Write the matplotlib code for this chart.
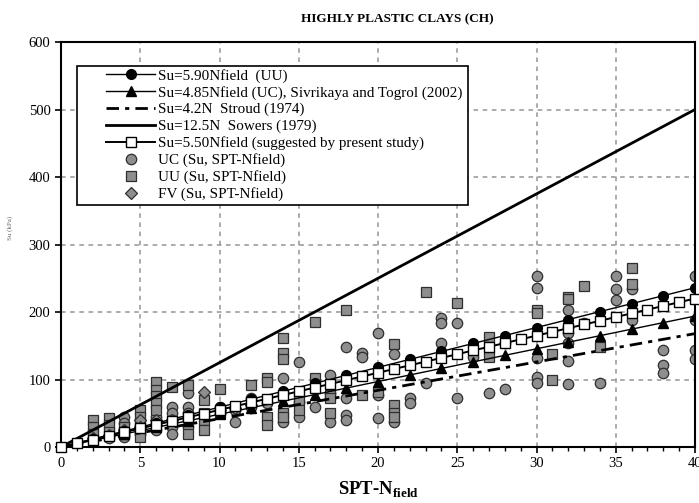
import numpy as np
import matplotlib
matplotlib.use("Agg")
import matplotlib.pyplot as plt
from matplotlib.patches import Rectangle

plt.rcParams['font.family'] = ['Liberation Serif', 'DejaVu Serif']
plt.rcParams['mathtext.fontset'] = 'custom'
plt.rcParams['mathtext.rm'] = 'Liberation Serif'
plt.rcParams['mathtext.bf'] = 'Liberation Serif:bold'

# measured data: UC tests (N, Su)
uc_n = [3, 4, 4, 4, 4, 5, 5, 6, 6, 6, 7, 7, 7, 7, 7, 8, 8, 8, 8, 8,
        10, 10, 11, 11, 12, 12, 13, 14, 14, 14, 15, 15, 15, 16,
        17, 17, 17, 18, 18, 18, 18, 19, 19, 20, 20, 20, 21, 21, 22, 22,
        23, 24, 24, 24, 25, 25, 26, 27, 28, 28,
        30, 30, 30, 30, 30, 32, 32, 32, 32, 32, 32, 33, 34,
        35, 35, 35, 36, 36, 38, 38, 38, 40, 40, 40, 40]
uc_su = [13, 45, 35, 25, 15, 20, 30, 45, 35, 25, 60, 50, 40, 30, 20, 80, 60, 50, 40, 30,
         60, 50, 37, 55, 72, 60, 65, 102, 80, 37, 126, 44, 67, 60,
         107, 37, 80, 148, 72, 47, 40, 139, 133, 169, 43, 77, 138, 37, 72, 65,
         95, 191, 184, 154, 184, 72, 133, 80, 154, 86,
         253, 235, 132, 104, 95, 203, 178, 169, 154, 128, 93, 184, 95,
         253, 234, 218, 234, 188, 144, 121, 110, 253, 188, 144, 130]

# UU tests
uu_n = [2, 2, 2, 3, 3, 3, 4, 4, 5, 5, 5, 5, 5, 6, 6, 6, 6, 6, 7, 8, 8,
        9, 9, 9, 9, 10, 10, 12, 13, 13, 13, 13, 14, 14, 14, 14, 14,
        15, 15, 16, 16, 17, 17, 17, 18, 19, 20, 21, 21, 21, 21,
        23, 25, 27, 27, 30, 30, 31, 31, 32, 32, 33, 34, 36, 36]
uu_su = [40, 30, 20, 43, 33, 22, 30, 20, 55, 45, 35, 25, 15, 96, 85, 75, 65, 55, 89, 92, 20,
         70, 50, 40, 25, 86, 50, 92, 102, 96, 45, 33, 161, 140, 130, 50, 44,
         70, 55, 185, 102, 77, 72, 50, 203, 77, 81, 153, 62, 50, 44,
         230, 213, 163, 133, 203, 198, 138, 99, 222, 220, 238, 148, 265, 241]

# field vane tests
fv_n = [2, 3, 4, 5, 5, 6, 6, 7, 8, 9, 10, 11, 12]
fv_su = [13, 18, 25, 40, 30, 40, 33, 40, 45, 82, 55, 58, 62]

# correlation lines
n_all = np.arange(0, 41)
n_even = np.arange(0, 41, 2)
k_uu = 5.90
k_uc = 4.85
k_stroud = 4.2
k_sowers = 12.5
k_present = 5.50

fig = plt.figure(figsize=(6.99, 5.03), dpi=100)
ax = fig.add_axes([0.0873, 0.1113, 0.907, 0.8052])

grey = '#8e8e8e'
edge = '#2e2e2e'
s1, = ax.plot(uc_n, uc_su, 'o', ms=7.5, mfc=grey, mec=edge, mew=0.9, zorder=2,
              label='UC (Su, SPT-Nfield)')
s2, = ax.plot(uu_n, uu_su, 's', ms=7.5, mfc=grey, mec=edge, mew=0.9, zorder=2,
              label='UU (Su, SPT-Nfield)')
s3, = ax.plot(fv_n, fv_su, 'D', ms=6.5, mfc=grey, mec=edge, mew=0.9, zorder=2,
              label='FV (Su, SPT-Nfield)')

l1, = ax.plot(n_even, k_uu * n_even, '-o', color='black', lw=1.0, ms=7, zorder=4,
              label='Su=5.90Nfield  (UU)')
l2, = ax.plot(n_even, k_uc * n_even, '-^', color='black', lw=1.0, ms=7, zorder=4,
              label='Su=4.85Nfield (UC), Sivrikaya and Togrol (2002)')
l3, = ax.plot(n_all, k_stroud * n_all, color='black', lw=2.0,
              linestyle=(0, (4.5, 2.2, 1.5, 2.2)), zorder=3,
              label='Su=4.2N  Stroud (1974)')
l4, = ax.plot(n_all, k_sowers * n_all, '-', color='black', lw=2.0, zorder=3,
              label='Su=12.5N  Sowers (1979)')
l5, = ax.plot(n_all, k_present * n_all, '-s', color='black', lw=1.4, ms=7.5,
              mfc='white', mec='black', mew=1.0, zorder=5, clip_on=False,
              label='Su=5.50Nfield (suggested by present study)')

ax.set_xlim(0, 40)
ax.set_ylim(0, 600)
ax.set_xticks(range(0, 41, 5))
ax.set_xticks(range(0, 41, 1), minor=True)
ax.set_yticks(range(0, 601, 100))
ax.tick_params(axis='both', direction='out', labelsize=10.5, width=1.2, length=4)
ax.tick_params(axis='x', which='minor', direction='out', length=3, width=1.0)
ax.grid(True, which='major', color='#959595', linestyle=(0, (3, 3)), lw=1.1)
ax.set_axisbelow(True)
for sp in ax.spines.values():
    sp.set_linewidth(1.5)

ax.set_title('HIGHLY PLASTIC CLAYS (CH)', fontsize=9.5, fontweight='bold', x=0.53, pad=14)
ax.set_xlabel(r'SPT-N$_{\bf field}$', fontsize=13.5, fontweight='bold', labelpad=7)
ax.set_ylabel('Su (kPa)', fontsize=5, color='#666666')
ax.yaxis.set_label_coords(-0.075, 0.54)

# legend without its own frame, boxed separately
handles = [l1, l2, l3, l4, l5, s1, s2, s3]
leg = ax.legend(handles=handles, loc='upper left', bbox_to_anchor=(0.071, 0.934),
                borderaxespad=0, borderpad=0, fontsize=10.9, handlelength=3.25,
                handletextpad=0.2, labelspacing=0.2, frameon=False)
leg.set_zorder(7)
box = Rectangle((0.025, 0.598), 0.617, 0.343, transform=ax.transAxes,
                facecolor='white', edgecolor='black', lw=1.2, zorder=6)
ax.add_patch(box)

fig.savefig('out.png', dpi=100)
